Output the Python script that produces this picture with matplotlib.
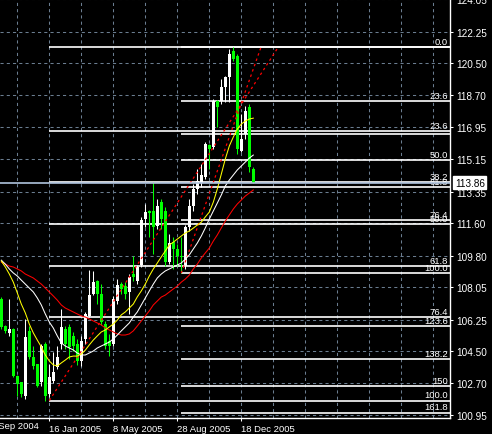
import matplotlib
matplotlib.use("Agg")
import matplotlib.pyplot as plt
import numpy as np

# weekly bars, bar 0 = week of 24 Oct 2004
opens = [107.39, 105.89, 105.50, 105.73, 103.12, 102.78, 102.00, 105.61, 104.17, 103.78,
         102.78, 104.89, 102.12, 102.84, 103.61, 104.89, 105.73, 105.84, 105.34, 104.89,
         103.95, 105.17, 106.45, 107.67, 108.39, 107.67, 106.00, 105.06, 104.89, 107.28,
         108.22, 108.11, 107.78, 108.78, 108.39, 109.28, 111.83, 112.28, 112.28, 111.44,
         112.78, 112.28, 109.45, 110.56, 110.17, 109.78, 109.22, 111.39, 112.56, 113.50,
         113.83, 114.17, 115.94, 115.83, 118.39, 118.39, 119.16, 119.72, 121.16, 120.88,
         115.61, 116.55, 118.05, 114.61]
highs = [107.50, 105.95, 107.39, 105.78, 103.17, 102.78, 106.28, 105.89, 104.78, 103.78,
         104.89, 105.00, 103.78, 104.45, 104.78, 106.84, 105.89, 106.00, 105.56, 105.17,
         105.34, 106.67, 109.00, 108.95, 108.45, 108.22, 106.17, 105.45, 107.56, 108.50,
         108.33, 108.33, 108.78, 109.78, 109.28, 111.94, 112.67, 112.35, 113.89, 112.94,
         112.94, 112.50, 111.00, 110.83, 110.45, 110.83, 111.50, 112.94, 113.78, 114.61,
         114.89, 116.11, 116.00, 118.50, 118.45, 119.61, 119.77, 121.27, 121.37, 121.00,
         117.66, 118.11, 118.22, 114.72]
lows = [105.73, 105.50, 105.34, 103.06, 102.00, 101.95, 101.84, 104.06, 103.50, 102.50,
        102.56, 101.75, 101.95, 102.73, 103.50, 104.61, 104.61, 104.06, 104.50, 103.73,
        103.67, 104.89, 106.39, 107.61, 107.11, 105.95, 104.61, 104.23, 104.78, 107.11,
        107.67, 107.39, 106.56, 108.39, 108.22, 109.17, 111.39, 110.83, 109.89, 111.28,
        111.28, 109.22, 109.33, 109.06, 109.22, 108.83, 109.06, 111.17, 112.28, 113.22,
        113.61, 114.05, 114.61, 115.72, 116.94, 118.22, 118.33, 118.33, 120.61, 115.44,
        115.55, 116.28, 114.44, 113.83]
closes = [105.84, 105.61, 105.73, 103.12, 102.67, 102.12, 105.28, 104.17, 103.67, 102.56,
          104.78, 102.00, 103.06, 103.34, 104.17, 105.84, 104.89, 104.73, 104.78, 103.95,
          105.06, 106.56, 107.61, 108.33, 107.67, 106.11, 104.78, 104.78, 107.39, 108.17,
          107.95, 107.67, 108.61, 108.61, 109.17, 111.78, 112.22, 112.17, 111.39, 112.56,
          111.83, 109.45, 110.50, 110.17, 109.78, 109.72, 111.39, 112.56, 113.50, 113.94,
          114.28, 116.00, 115.72, 118.39, 118.05, 119.16, 119.72, 121.00, 120.72, 115.72,
          116.28, 117.83, 114.72, 113.86]

# moving averages
ma_yellow = [109.50, 109.17, 108.78, 108.33, 107.73, 107.11, 106.62, 106.00, 105.51, 105.11,
             104.73, 104.28, 103.95, 103.73, 103.67, 103.84, 104.00, 104.17, 104.22, 104.22,
             104.33, 104.55, 104.84, 105.11, 105.34, 105.56, 105.67, 105.84, 106.00, 106.22,
             106.51, 106.67, 106.89, 107.11, 107.51, 107.84, 108.22, 108.67, 109.06, 109.39,
             109.73, 110.06, 110.39, 110.55, 110.72, 110.89, 111.06, 111.17, 111.33, 111.50,
             111.66, 111.95, 112.22, 112.77, 113.50, 114.33, 115.17, 115.89, 116.39, 116.83,
             117.11, 117.28, 117.39, 117.44]
ma_white = [109.55, 109.33, 109.06, 108.84, 108.67, 108.44, 108.22, 108.00, 107.78, 107.45,
            107.06, 106.56, 106.11, 105.78, 105.34, 104.95, 104.78, 104.67, 104.56, 104.39,
            104.28, 104.28, 104.39, 104.50, 104.67, 104.78, 104.89, 105.00, 105.17, 105.39,
            105.62, 105.84, 106.06, 106.39, 106.67, 107.06, 107.45, 107.84, 108.22, 108.56,
            108.78, 108.95, 109.06, 109.17, 109.28, 109.39, 109.61, 109.84, 110.17, 110.50,
            110.89, 111.34, 111.83, 112.28, 112.72, 113.17, 113.67, 114.00, 114.28, 114.56,
            114.78, 115.00, 115.22, 115.39]
ma_red = [109.44, 109.33, 109.22, 109.17, 109.06, 108.95, 108.78, 108.67, 108.56, 108.39,
          108.22, 108.00, 107.78, 107.56, 107.33, 107.06, 106.89, 106.78, 106.67, 106.56,
          106.45, 106.39, 106.28, 106.17, 106.06, 105.95, 105.78, 105.67, 105.56, 105.45,
          105.39, 105.39, 105.45, 105.62, 105.89, 106.17, 106.45, 106.73, 107.06, 107.28,
          107.50, 107.61, 107.78, 107.95, 108.11, 108.33, 108.50, 108.72, 109.06, 109.33,
          109.67, 109.95, 110.22, 110.61, 110.95, 111.34, 111.72, 112.06, 112.39, 112.67,
          112.89, 113.11, 113.28, 113.45]

date_ticks = [-4, 12, 28, 44, 60]
date_labels = ['26 Sep 2004', '16 Jan 2005', '8 May 2005', '28 Aug 2005', '18 Dec 2005']
price_ticks = [124.05, 122.25, 120.50, 118.70, 116.95, 115.15, 113.35,
               111.60, 109.80, 108.05, 106.25, 104.50, 102.70, 100.95]
last_price = 113.86

# fibonacci retracements: (bar, price) of the low and the high anchor
fib1_low = (12, 101.75)
fib1_high = (69.2, 121.37)
fib1_levels = [0.0, 23.6, 38.2, 50.0, 61.8, 76.4, 100.0]
fib1_labels = ['0.0', '23.6', '38.2', '50.0', '61.8', '76.4', '100.0']
fib2_low = (45, 108.83)
fib2_high = (64.9, 121.37)
fib2_levels = [0.0, 23.6, 38.2, 50.0, 61.8, 76.4, 100.0, 123.6, 138.2, 150.0, 161.8]
fib2_labels = ['', '23.6', '', '50.0', '61.8', '76.4', '100.0', '123.6', '138.2', '150', '161.8']

plt.rcParams['font.family'] = 'Liberation Sans'
fs = 6.8

fig = plt.figure(figsize=(4.92, 4.35), dpi=100, facecolor='black')
ax = fig.add_axes([0, 1 - 419 / 435, 450 / 492, 419 / 435], facecolor='black')
ax.set_xlim(-0.325, 112.175)
ax.set_ylim(100.78, 124.06)

# grid
for k in range(4, 112, 8):
    ax.axvline(k, color='#6a7d90', lw=0.75, ls=(0, (3, 3)), zorder=1)
for p in price_ticks:
    ax.axhline(p, color='#6a7d90', lw=0.75, ls=(0, (3, 3)), zorder=1)

# fib levels
for (low, high, levels, labels) in [(fib1_low, fib1_high, fib1_levels, fib1_labels),
                                    (fib2_low, fib2_high, fib2_levels, fib2_labels)]:
    rng = high[1] - low[1]
    for lv, lab in zip(levels, labels):
        p = high[1] - lv / 100.0 * rng
        ax.hlines(p, low[0], 112.175, color='white', lw=1.2, zorder=2)
        if lab:
            ax.annotate(lab, xy=(0.996, p), xycoords=ax.get_yaxis_transform(),
                        xytext=(0, 0.8), textcoords='offset points',
                        ha='right', va='bottom', color='white', fontsize=fs, zorder=6)
    ax.plot([low[0], high[0]], [low[1], high[1]], color='#ff0000', lw=0.9,
            ls=(0, (2, 2.5)), zorder=4)

# candles
o = np.array(opens)
c = np.array(closes)
h = np.array(highs)
l = np.array(lows)
x = np.arange(len(o))
up = c > o
col = np.where(up, '#ffffff', '#00ff00')
ax.vlines(x, l, h, colors=col, lw=0.75, zorder=3)
body = np.maximum(np.abs(c - o), 0.03)
ax.bar(x, body, bottom=np.minimum(o, c), width=0.75, color=col, linewidth=0, zorder=3)

# moving averages
ax.plot(x, ma_red, color='#ff0000', lw=0.75, zorder=5)
ax.plot(x, ma_white, color='#ffffff', lw=0.75, zorder=5)
ax.plot(x, ma_yellow, color='#ffff00', lw=0.75, zorder=5)

# bid line and price box
ax.axhline(last_price, color='#b0c4de', lw=1.2, zorder=7)
ax.annotate(f'{last_price:.2f}', xy=(1.0, last_price), xycoords=ax.get_yaxis_transform(),
            xytext=(3.5, 0), textcoords='offset points', ha='left', va='center',
            fontsize=fs + 0.4, color='black', annotation_clip=False,
            bbox=dict(boxstyle='square,pad=0.15', facecolor='white', edgecolor='white'))

# axes
for s in ['left', 'top']:
    ax.spines[s].set_visible(False)
for s in ['right', 'bottom']:
    ax.spines[s].set_color('white')
    ax.spines[s].set_linewidth(1.0)
ax.yaxis.tick_right()
ax.set_yticks(price_ticks)
ax.set_yticklabels([f'{p:.2f}' for p in price_ticks])
ax.tick_params(axis='y', colors='white', labelsize=fs + 0.4, length=2.5, pad=2, width=0.75)
ax.set_xticks(date_ticks[1:])
ax.set_xticklabels(date_labels[1:], ha='left')
ax.tick_params(axis='x', colors='white', labelsize=fs, length=2.5, pad=1.5, width=0.75)
ax.text(date_ticks[0], -0.008, date_labels[0], transform=ax.get_xaxis_transform(),
        ha='left', va='top', color='white', fontsize=fs, clip_on=False)

fig.savefig('out.png', dpi=100, facecolor='black')
